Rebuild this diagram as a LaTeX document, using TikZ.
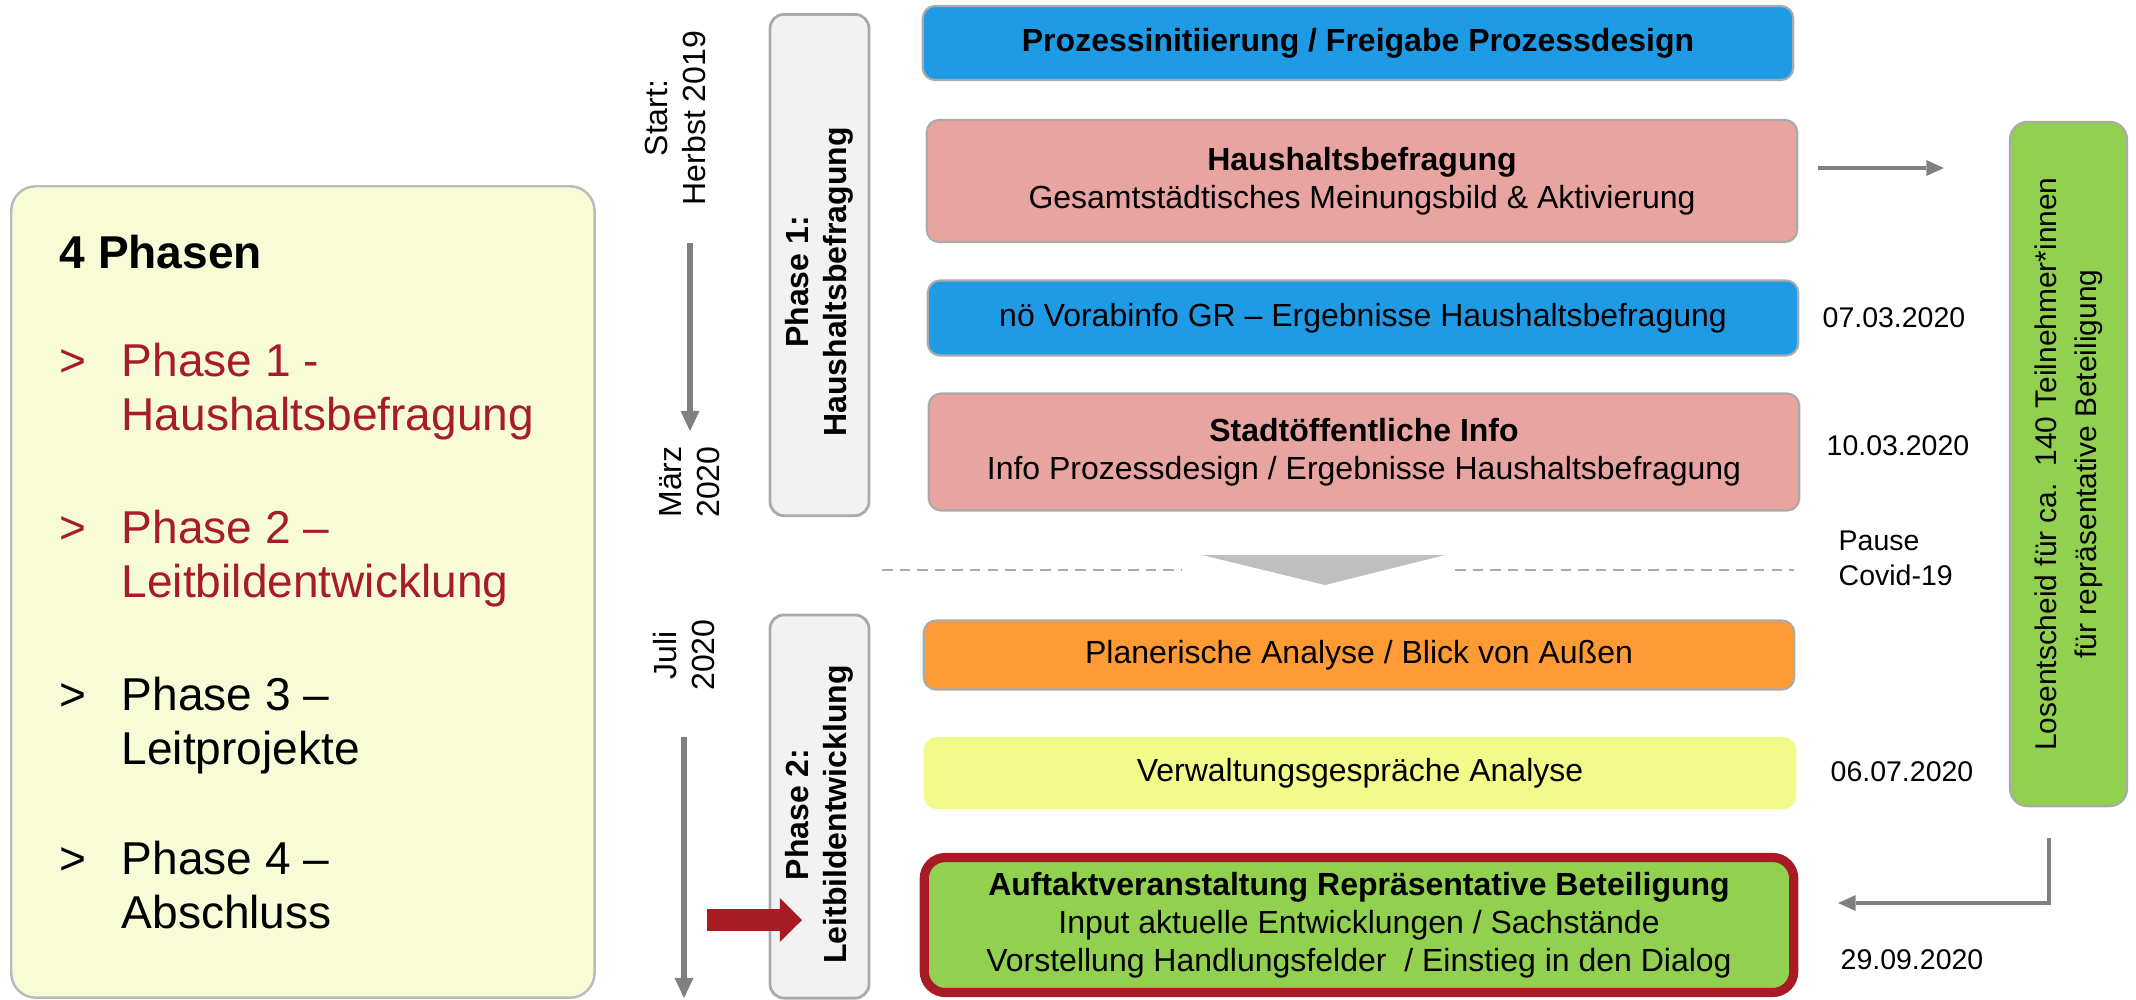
\documentclass[tikz,border=0pt]{standalone}
\usepackage{fontspec}
\setmainfont{Liberation Sans}
\usetikzlibrary{arrows.meta, positioning}

\definecolor{procblue}{RGB}{31,155,230}
\definecolor{procpink}{RGB}{232,164,161}
\definecolor{procorange}{RGB}{255,155,53}
\definecolor{procyellow}{RGB}{242,250,138}
\definecolor{procgreen}{RGB}{146,208,80}
\definecolor{procred}{RGB}{166,27,36}
\definecolor{panelbg}{RGB}{248,252,214}
\definecolor{phasebg}{RGB}{242,242,242}
\definecolor{linegray}{RGB}{170,170,170}
\definecolor{arrowgray}{RGB}{128,128,128}
\definecolor{pausegray}{RGB}{191,191,191}
\definecolor{listred}{RGB}{166,28,42}

\newcommand{\boxfont}{\fontsize{9.1}{10.8}\selectfont}
\newcommand{\datefont}{\fontsize{8.1}{10}\selectfont}
\newcommand{\listfont}{\fontsize{13.1}{15.3}\selectfont}

\begin{document}
\begin{tikzpicture}[
        x=0.01cm, y=-0.01cm,
        procbox/.style={draw=linegray, line width=0.6pt, rounded corners=3.5pt,
          minimum width=8.7cm, align=center, font=\boxfont, inner sep=2pt},
        phasebox/.style={draw=linegray, line width=0.8pt, fill=phasebg, rounded corners=4pt,
          rotate=90, minimum height=0.99cm},
        phaselabel/.style={rotate=90, align=center, inner sep=0pt, font=\boxfont\bfseries},
        datelabel/.style={anchor=west, inner sep=0pt, font=\datefont},
        timelabel/.style={rotate=90, align=center, inner sep=0pt, font=\boxfont},
        listtext/.style={anchor=base west, inner sep=0pt, font=\listfont},
        timeline/.style={draw=arrowgray, line width=1.8pt,
          -{Triangle[width=5.4pt,length=5.7pt,line width=0pt]}},
        feedline/.style={draw=arrowgray, line width=1pt,
          -{Triangle[width=4.5pt,length=5pt,line width=0pt]}},
        pausedash/.style={draw=linegray, line width=0.6pt, dash pattern=on 3pt off 2pt}
        ]

        \useasboundingbox (0,0) rectangle (2136,999);

        % overview panel
        \node[draw=linegray!80, line width=0.7pt, fill=panelbg, rounded corners=7pt,
          anchor=north west, minimum width=5.83cm, minimum height=8.11cm] (panel) at (10,185) {};
        \node[listtext, font=\listfont\bfseries] (title) at (59,268) {4 Phasen};
        \foreach \i/\yy/\first/\second/\col in {1/376/Phase 1 -/Haushaltsbefragung/listred,
            2/543/Phase 2 –/Leitbildentwicklung/listred, 3/710/Phase 3 –/Leitprojekte/black,
            4/874/Phase 4 –/Abschluss/black}
        {
          \node[listtext, text=\col] (mark\i) at (59,\yy) {>};
          \node[listtext, text=\col] (item\i) at (121,\yy) {\first};
          \node[listtext, text=\col] (sub\i) at (121,\yy+54) {\second};
        }

        % time line
        \node[timelabel] (start) at (675,118) {Start:\\Herbst 2019};
        \node[timelabel] (maerz) at (690,482) {März\\2020};
        \node[timelabel] (juli)  at (684,655) {Juli\\2020};
        \coordinate (t1top) at (690,243);
        \coordinate (t1bot) at (690,431);
        \coordinate (t2top) at (684,737);
        \coordinate (t2bot) at (684,998);
        \draw[timeline] (t1top) -- (t1bot);
        \draw[timeline] (t2top) -- (t2bot);

        % phases
        \node[phasebox, minimum width=5.01cm] (phase1) at (819.5,265) {};
        \node[phasebox, minimum width=3.83cm] (phase2) at (819.5,806.5) {};
        \node[phaselabel] (phase1text) at ([yshift=-0.17cm]phase1.center) {Phase 1:\\Haushaltsbefragung};
        \node[phaselabel] (phase2text) at ([yshift=-0.08cm]phase2.center) {Phase 2:\\Leitbildentwicklung};

        % process steps
        \node[procbox, fill=procblue, minimum height=0.74cm, font=\boxfont\bfseries] (init) at (1358,43)
          {Prozessinitiierung / Freigabe Prozessdesign};
        \node[procbox, fill=procpink, minimum height=1.22cm] (survey) at (1362,181)
          {\textbf{Haushaltsbefragung}\\Gesamtstädtisches Meinungsbild \& Aktivierung};
        \node[procbox, fill=procblue, minimum height=0.75cm] (preinfo) at (1363,318)
          {nö Vorabinfo GR – Ergebnisse Haushaltsbefragung};
        \node[procbox, fill=procpink, minimum height=1.17cm] (public) at (1364,452)
          {\textbf{Stadtöffentliche Info}\\Info Prozessdesign / Ergebnisse Haushaltsbefragung};
        \node[procbox, fill=procorange, minimum height=0.69cm] (analysis) at (1359,655)
          {Planerische Analyse / Blick von Außen};
        \node[procbox, fill=procyellow, draw=procyellow, minimum height=0.70cm] (talks) at (1360,773)
          {Verwaltungsgespräche Analyse};
        \node[procbox, fill=procgreen, draw=procred, line width=2.6pt, rounded corners=6pt,
          minimum width=8.69cm, minimum height=1.35cm] (kickoff) at (1359,925)
          {\textbf{Auftaktveranstaltung Repräsentative Beteiligung}\\Input aktuelle Entwicklungen / Sachstände\\Vorstellung Handlungsfelder~ / Einstieg in den Dialog};

        % pause
        \coordinate (pl) at (882,570);
        \coordinate (pm1) at (1182,570);
        \coordinate (pm2) at (1455,570);
        \coordinate (pr) at (1794,570);
        \draw[pausedash] (pl) -- (pm1) (pm2) -- (pr);
        \fill[pausegray] (1202,555) -- (1445,555) -- (1325,585) -- cycle;

        % dates
        \node[datelabel] (d1) at (1822,318) {07.03.2020};
        \node[datelabel] (d2) at (1826,446) {10.03.2020};
        \node[datelabel, align=left] (pause) at (1838,558) {Pause\\Covid-19};
        \node[datelabel] (d3) at (1830,772) {06.07.2020};
        \node[datelabel] (d4) at (1840,960) {29.09.2020};

        % lottery
        \node[procbox, fill=procgreen, rotate=90, minimum width=6.84cm, minimum height=1.17cm,
          rounded corners=5pt, font=\fontsize{8.5}{11.4}\selectfont] (lottery) at (2068.5,464)
          {Losentscheid für ca.\ \ 140 Teilnehmer*innen\\für repräsentative Beteiligung};
        \coordinate (survey-out) at (1818,168);
        \coordinate (lottery-in) at (1944,168);
        \coordinate (lottery-out) at (2049,838);
        \coordinate (kickoff-in) at (1838,903);
        \draw[feedline] (survey-out) -- (lottery-in);
        \draw[feedline, line width=1.2pt] (lottery-out) |- (kickoff-in);

        % marker
        \coordinate (kick-tail) at (707,920);
        \coordinate (kick-head) at (802,920);
        \draw[procred, line width=6.5pt, -{Triangle[width=12.5pt,length=6.3pt,line width=0pt]}]
          (kick-tail) -- (kick-head);
      \end{tikzpicture}
\end{document}
